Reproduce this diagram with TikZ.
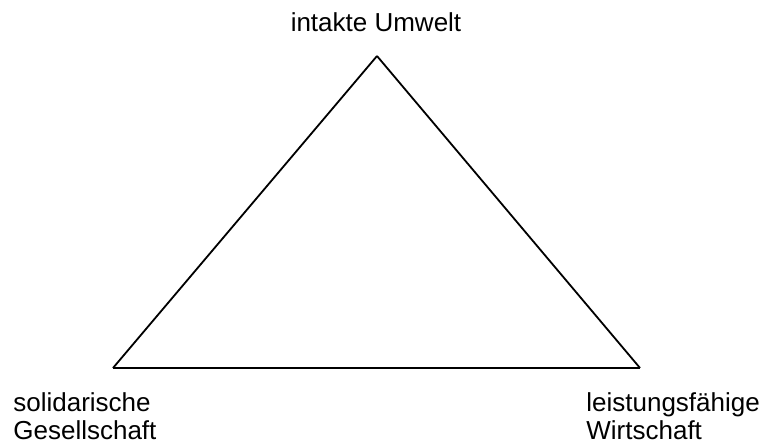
\documentclass[tikz,border=0pt]{standalone}
\usepackage{fontspec}
\setmainfont{Liberation Sans}
\usepackage{tikz}
\usetikzlibrary{positioning}

\begin{document}
\begin{tikzpicture}[
    x=0.5pt, y=0.5pt,
    goal/.style={inner sep=0pt, align=left, font=\fontsize{13}{14}\selectfont},
    side/.style={line width=0.9pt, line join=round},
]
\useasboundingbox (0,0) rectangle (767,444);

% Corners
\coordinate (top) at (377,388);
\coordinate (left) at (113,76);
\coordinate (right) at (640,76);

% Labels
\node[goal, anchor=base] (umwelt) at (376,412) {intakte Umwelt};
\node[goal, anchor=base west] (gesellschaft) at (13,4) {solidarische\\Gesellschaft};
\node[goal, anchor=base west] (wirtschaft) at (586,4) {leistungsfähige\\Wirtschaft};

% Triangle
\draw[side] (top) -- (left);
\draw[side] (left) -- (right);
\draw[side] (right) -- (top);
\end{tikzpicture}
\end{document}
